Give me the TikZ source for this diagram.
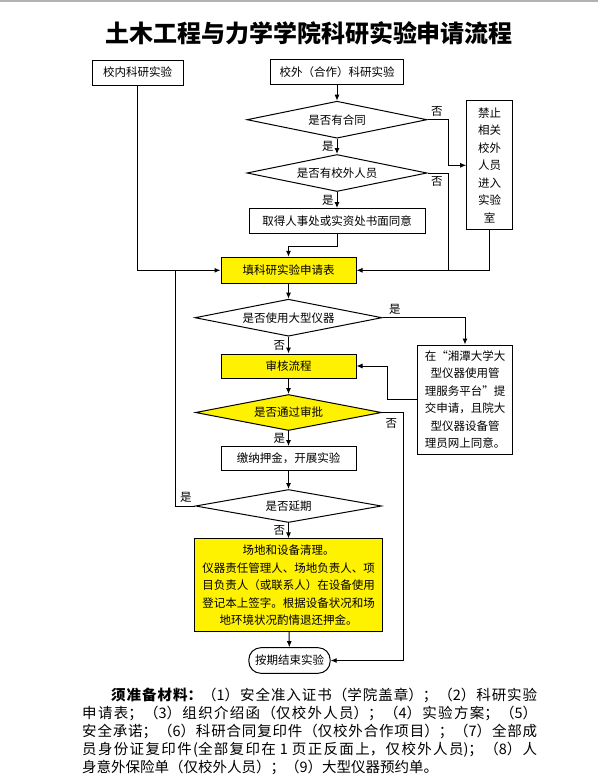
\documentclass[tikz,border=0pt]{standalone}
\usepackage{fontspec}
\setmainfont{Noto Sans CJK SC}
\usetikzlibrary{shapes.geometric,arrows.meta}
\XeTeXlinebreaklocale "zh"
\XeTeXlinebreakskip=0pt plus 3pt

\begin{document}
\begin{tikzpicture}[x=1pt,y=-1pt,
   line width=1pt,
   >={Latex[length=6pt,width=5pt]},
   every node/.style={font=\fontsize{11.5}{17.5}\selectfont,inner sep=0pt},
   proc/.style={draw,rectangle,align=center},
   hilite/.style={fill=yellow},
   decide/.style={draw,diamond,aspect=5,align=center},
   lbl/.style={inner sep=3pt}]
\useasboundingbox (0,0) rectangle (598,782);
\draw[gray!60,line width=1.5pt] (0,0.75) -- (598,0.75);
\node[font=\fontsize{24}{28}\selectfont\bfseries] (title) at (309,33.3) {土木工程与力学学院科研实验申请流程};

\node[proc,minimum width=91pt,minimum height=25pt] (inner) at (137.5,72.5) {校内科研实验};
\node[proc,minimum width=133pt,minimum height=25pt] (ext) at (337,72) {校外（合作）科研实验};
\node[decide,minimum width=180pt,minimum height=37pt] (q1) at (337,119.7) {是否有合同};
\node[decide,minimum width=180pt,minimum height=37pt] (q2) at (337,173) {是否有校外人员};
\node[proc,minimum width=176pt,minimum height=25pt] (consent) at (337,221) {取得人事处或实资处书面同意};
\node[proc,minimum width=46pt,minimum height=129pt] (ban) at (489.7,165.3) {禁止\\相关\\校外\\人员\\进入\\实验\\室};
\node[proc,hilite,minimum width=135pt,minimum height=26pt] (fill) at (288.5,270.3) {填科研实验申请表};
\node[decide,minimum width=187pt,minimum height=37pt] (q3) at (288.5,317.7) {是否使用大型仪器};
\node[proc,minimum width=94.6pt,minimum height=109pt] (plat) at (465,399.5) {在“湘潭大学大\\型仪器使用管\\理服务平台”提\\交申请，且院大\\型仪器设备管\\理员网上同意。};
\node[proc,hilite,minimum width=135pt,minimum height=24pt] (review) at (288.5,366) {审核流程};
\node[decide,hilite,minimum width=186pt,minimum height=36pt] (q4) at (288.5,412.5) {是否通过审批};
\node[proc,minimum width=135pt,minimum height=23.5pt] (pay) at (288.5,458.3) {缴纳押金，开展实验};
\node[decide,minimum width=186pt,minimum height=33pt] (q5) at (288.5,506) {是否延期};
\node[proc,hilite,minimum width=188.4pt,minimum height=92.7pt] (clean) at (288.5,585.3) {场地和设备清理。\\仪器责任管理人、场地负责人、项\\目负责人（或联系人）在设备使用\\登记本上签字。根据设备状况和场\\地环境状况酌情退还押金。};
\node[proc,rounded corners=12pt,minimum width=81.3pt,minimum height=25.6pt] (finish) at (289.5,660.5) {按期结束实验};
\coordinate (j2) at (448,270.3);
\coordinate (j4) at (175,270.3);

\draw[->] (ext) -- (q1);
\draw[->] (q1) -- node[lbl,left]{是} (q2);
\draw[->] (q1.east) node[lbl,above right]{否} -- ++(21,0) |- (ban.west);
\draw[->] (q2) -- node[lbl,left]{是} (consent);
\draw (q2.east) node[lbl,below right]{否} -| (j2);
\draw[->] (consent.south) -- ++(0,12.7) -| (fill.north);
\draw[->] (ban.south) |- (fill.east);
\draw[->] (inner.south) |- (fill.west);
\draw[->] (fill) -- (q3);
\draw[->] (q3.east) node[lbl,above right,xshift=3pt]{是} -| (plat.north);
\draw[->] (q3) -- node[lbl,left]{否} (review);
\draw[->] (plat.west) -- ++(-30,0) |- (review.east);
\draw[->] (review) -- (q4);
\draw[->] (q4.east) node[lbl,below right,yshift=-2pt]{否} -- ++(21,0) |- (finish.east);
\draw[->] (q4) -- node[lbl,left]{是} (pay);
\draw[->] (pay) -- (q5);
\draw (q5.west) node[lbl,above left]{是} -| (j4);
\draw[->] (q5) -- node[lbl,left]{否} (clean);
\draw[->] (clean) -- (finish);

\node[text width=455pt,align=justify,anchor=north west,font=\fontsize{14.5}{18}\selectfont] (req) at (81.7,688) {\hspace*{29pt}{\bfseries 须准备材料：}（1）安全准入证书（学院盖章）；（2）科研实验\linebreak 申请表；（3）组织介绍函（仅校外人员）；（4）实验方案；（5）\linebreak 安全承诺；（6）科研合同复印件（仅校外合作项目）；（7）全部成\linebreak 员身份证复印件(全部复印在 1 页正反面上，仅校外人员)；（8）人\linebreak 身意外保险单（仅校外人员）；（9）大型仪器预约单。};
\end{tikzpicture}
\end{document}
